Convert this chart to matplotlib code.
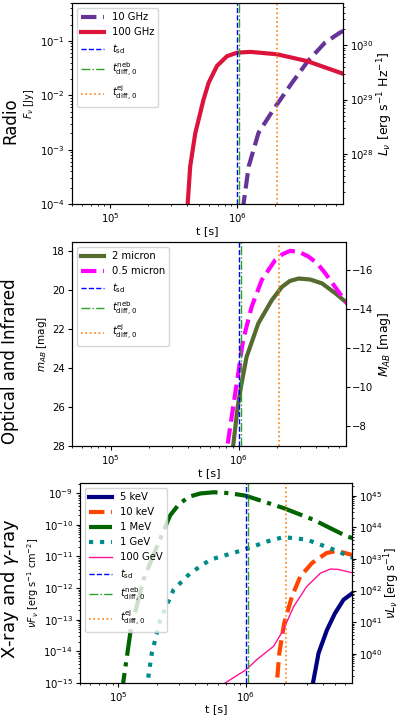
import numpy as np
import matplotlib
matplotlib.use('Agg')
import matplotlib.pyplot as plt
from matplotlib.ticker import LogLocator

# distance 100 Mpc -> conversions for right-hand axes
d_cm = 3.086e26
area = 4 * np.pi * d_cm**2
jy_to_lnu = area * 1e-23
mu = 35.0

t_sd = 1.0e6
t_neb = 1.04e6
t_ej = 2.05e6

# --- Radio [Jy] ---
t_100ghz = [3.9e5, 4.07e5, 4.26e5, 4.67e5, 5.43e5, 5.95e5, 6.92e5, 8.3e5, 1.0e6, 1.27e6, 2.05e6, 3.54e6, 6.8e6, 7.2e6]
f_100ghz = [3e-5, 1e-4, 4.9e-4, 2.0e-3, 8.4e-3, 1.7e-2, 3.47e-2, 5.25e-2, 6.1e-2, 6.3e-2, 5.7e-2, 4.27e-2, 2.5e-2, 2.35e-2]
t_10ghz = [1.08e6, 1.12e6, 1.23e6, 1.47e6, 1.93e6, 2.7e6, 3.6e6, 4.9e6, 6.45e6, 7.2e6]
f_10ghz = [3e-5, 1e-4, 4.9e-4, 2.04e-3, 5.5e-3, 1.7e-2, 4.27e-2, 9.3e-2, 0.143, 0.16]

# --- Optical / IR [AB mag] ---
t_2mic = [8.8e5, 9.04e5, 9.8e5, 1.04e6, 1.15e6, 1.42e6, 1.81e6, 2.17e6, 2.5e6, 2.93e6, 3.6e6, 4.46e6, 5.68e6, 7.2e6]
m_2mic = [29.0, 28.0, 26.0, 24.97, 23.44, 21.72, 20.53, 19.85, 19.55, 19.42, 19.47, 19.67, 20.18, 20.75]
t_05mic = [7.9e5, 8.15e5, 9.04e5, 9.9e5, 1.08e6, 1.26e6, 1.51e6, 1.92e6, 2.2e6, 2.52e6, 3.0e6, 3.5e6, 4.1e6, 4.74e6, 5.85e6, 7.2e6]
m_05mic = [29.0, 28.0, 26.0, 24.29, 22.58, 20.87, 19.5, 18.48, 18.17, 18.0, 18.08, 18.3, 18.65, 19.16, 20.0, 20.8]

# --- X-ray / gamma-ray [erg/s/cm^2] ---
t_5kev = [3.2e6, 3.36e6, 3.72e6, 4.33e6, 5.0e6, 5.84e6, 7.2e6]
f_5kev = [3e-16, 1e-15, 8.9e-15, 4.8e-14, 1.6e-13, 4.3e-13, 8.0e-13]
t_10kev = [1.7e6, 1.75e6, 1.83e6, 2.0e6, 2.3e6, 2.67e6, 3.3e6, 4.3e6, 5.2e6, 7.2e6]
f_10kev = [3e-16, 1e-15, 8.9e-15, 7.9e-14, 5.5e-13, 2.3e-12, 6.2e-12, 1.29e-11, 1.5e-11, 1.05e-11]
t_1mev = [1.06e5, 1.09e5, 1.25e5, 1.57e5, 2.0e5, 2.55e5, 3.0e5, 3.6e5, 4.4e5, 5.6e5, 7.5e5, 1.0e6, 1.97e6, 3.39e6, 6.2e6, 7.2e6]
f_1mev = [3e-16, 1e-15, 4.8e-14, 1.8e-12, 2.0e-11, 2.0e-10, 4.6e-10, 7.8e-10, 9.8e-10, 1.07e-9, 1.0e-9, 8.3e-10, 3.4e-10, 1.45e-10, 4.3e-11, 3.6e-11]
t_1gev = [1.62e5, 1.69e5, 1.83e5, 2.13e5, 2.71e5, 3.66e5, 5.25e5, 9.6e5, 1.46e6, 1.97e6, 3.0e6, 4.59e6, 7.2e6]
f_1gev = [3e-16, 1e-15, 8.9e-15, 1e-13, 8.9e-13, 2.95e-12, 7.9e-12, 1.62e-11, 2.95e-11, 4.1e-11, 3.4e-11, 1.82e-11, 8.5e-12]
t_100gev = [6.87e5, 1.0e6, 1.22e6, 1.65e6, 1.97e6, 2.37e6, 3.0e6, 3.84e6, 4.59e6, 5.3e6, 7.2e6]
f_100gev = [1e-15, 2.6e-15, 5.5e-15, 1.45e-14, 4.8e-14, 2.6e-13, 1.12e-12, 2.95e-12, 4.0e-12, 3.9e-12, 2.9e-12]

xlim = (5e4, 6.8e6)
W, H = 399, 716


def place(l, r, top, bot):
    return [l / W, 1 - bot / H, (r - l) / W, (bot - top) / H]


def vlines(ax):
    ax.axvline(t_sd, color='blue', ls='--', lw=1, label=r'$t_{\rm sd}$')
    ax.axvline(t_neb, color='tab:green', ls='-.', lw=1, label=r'$t_{\rm diff,\,0}^{\rm neb}$')
    ax.axvline(t_ej, color='tab:orange', ls=':', lw=1.2, label=r'$t_{\rm diff,\,0}^{\rm ej}$')


def style(ax, ax2, xpad=1):
    for a in (ax, ax2):
        a.tick_params(which='major', labelsize=7.3, length=2.6, pad=2.4)
        a.tick_params(which='minor', length=1.5)
    ax.set_xlabel('t [s]', fontsize=8, labelpad=xpad)


leg_kw = dict(loc='upper left', fontsize=7.2, handlelength=2.3)

fig = plt.figure(figsize=(W / 100, H / 100), dpi=100)

# Radio
ax1 = fig.add_axes(place(72, 343, 3, 204))
ax1.plot(t_10ghz, f_10ghz, color='rebeccapurple', ls='--', lw=3, label='10 GHz')
ax1.plot(t_100ghz, f_100ghz, color='crimson', ls='-', lw=3, label='100 GHz')
vlines(ax1)
ax1.set_xscale('log')
ax1.set_yscale('log')
ax1.set_xlim(xlim)
ax1.set_ylim(1e-4, 0.5)
ax1.set_ylabel(r'$F_\nu$ [Jy]', fontsize=7, labelpad=3)
ax1.legend(**leg_kw)
ax1b = ax1.twinx()
ax1b.set_yscale('log')
ax1b.set_ylim(1e-4 * jy_to_lnu, 0.5 * jy_to_lnu)
ax1b.set_ylabel(r'$L_\nu$ [erg s$^{-1}$ Hz$^{-1}$]', fontsize=9, labelpad=1.5)
style(ax1, ax1b)

# Optical / IR
ax2 = fig.add_axes(place(72, 345.5, 242, 446))
ax2.plot(t_2mic, m_2mic, color='darkolivegreen', ls='-', lw=3, label='2 micron')
ax2.plot(t_05mic, m_05mic, color='magenta', ls='--', lw=3, label='0.5 micron')
vlines(ax2)
ax2.set_xscale('log')
ax2.set_xlim(xlim)
ax2.set_ylim(28, 17.55)
ax2.set_ylabel(r'$m_{AB}$ [mag]', fontsize=7.5, labelpad=2)
ax2.legend(**leg_kw)
ax2b = ax2.twinx()
ax2b.set_ylim(28 - mu, 17.55 - mu)
ax2b.set_ylabel(r'$M_{AB}$ [mag]', fontsize=9, labelpad=1.5)
style(ax2, ax2b)

# X-ray / gamma-ray
ax3 = fig.add_axes(place(80, 352, 483, 683))
ax3.plot(t_5kev, f_5kev, color='navy', ls='-', lw=3, label='5 keV')
ax3.plot(t_10kev, f_10kev, color='orangered', ls='--', lw=3, label='10 keV')
ax3.plot(t_1mev, f_1mev, color='darkgreen', ls='-.', lw=3, label='1 MeV')
ax3.plot(t_1gev, f_1gev, color='darkcyan', ls=':', lw=3, label='1 GeV')
ax3.plot(t_100gev, f_100gev, color='deeppink', ls='-', lw=1, label='100 GeV')
vlines(ax3)
ax3.set_xscale('log')
ax3.set_yscale('log')
ax3.set_xlim(xlim)
ax3.set_ylim(1e-15, 2.1e-9)
ax3.yaxis.set_major_locator(LogLocator(base=10, numticks=20))
ax3.set_ylabel(r'$\nu F_\nu$ [erg s$^{-1}$ cm$^{-2}$]', fontsize=7, labelpad=2)
ax3.legend(**leg_kw)
ax3b = ax3.twinx()
ax3b.set_yscale('log')
ax3b.set_ylim(1e-15 * area, 2.1e-9 * area)
ax3b.set_ylabel(r'$\nu L_\nu$ [erg s$^{-1}$]', fontsize=8.3, labelpad=-0.5)
ax3b.tick_params(which='major', pad=1.8)
style(ax3, ax3b, xpad=0)

fig.text(10 / W, 1 - 121 / H, 'Radio', rotation=90, fontsize=12, ha='center', va='center')
fig.text(10 / W, 1 - 361 / H, 'Optical and Infrared', rotation=90, fontsize=12, ha='center', va='center')
fig.text(10 / W, 1 - 589 / H, r'X-ray and $\gamma$-ray', rotation=90, fontsize=13, ha='center', va='center')

fig.savefig('out.png', dpi=100)
